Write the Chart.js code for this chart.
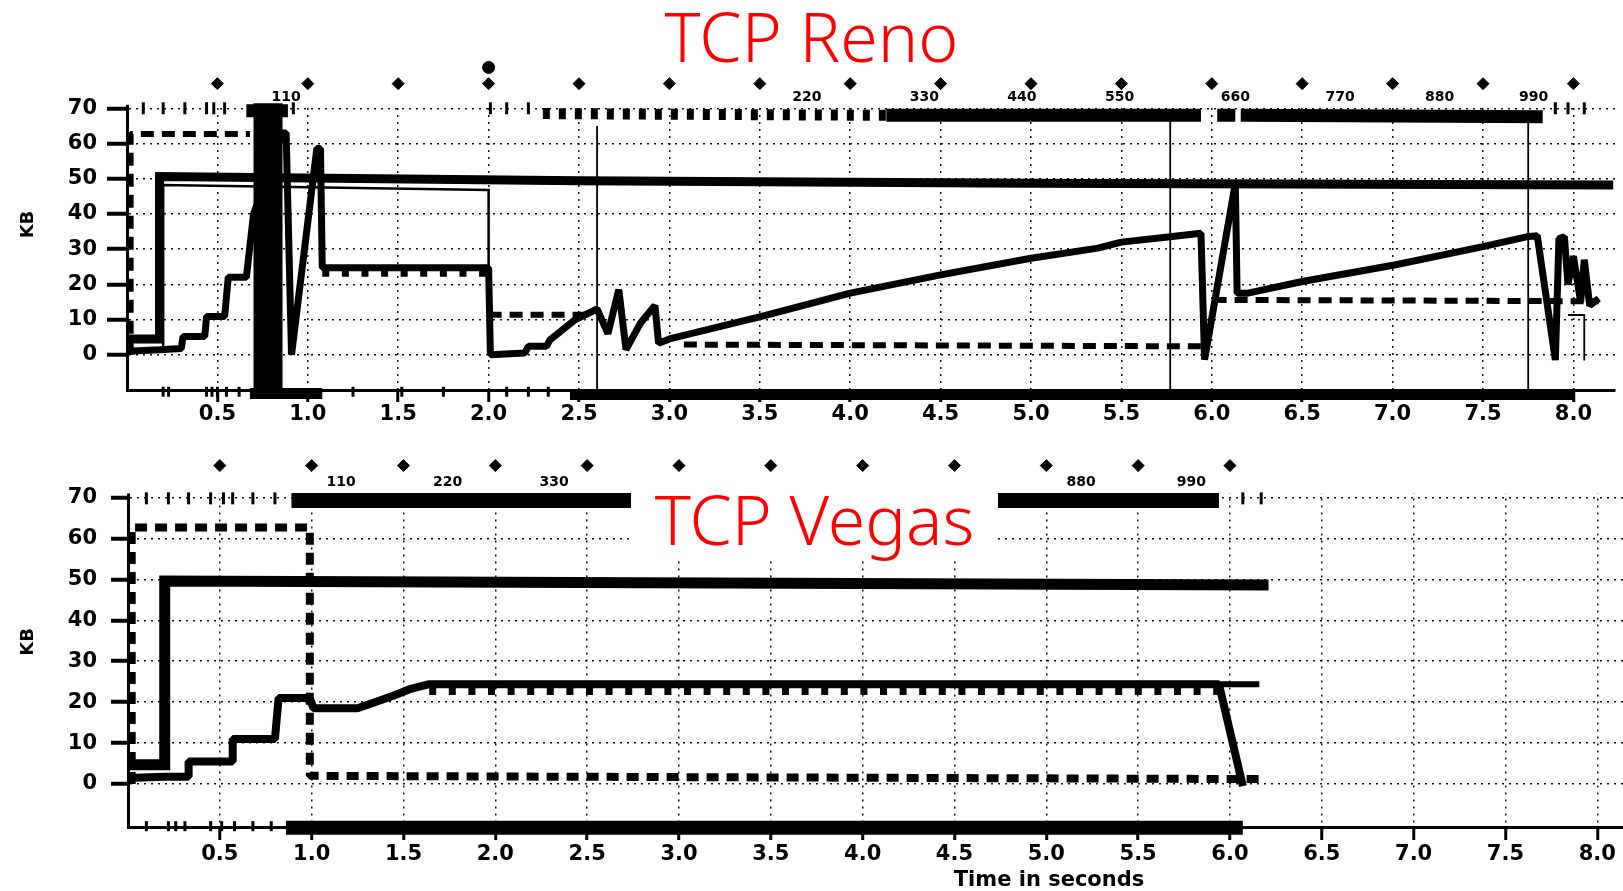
<!DOCTYPE html>
<html>
<head>
<meta charset="utf-8">
<title>TCP Reno / TCP Vegas</title>
<script src="https://cdn.jsdelivr.net/npm/chart.js@4.4.0/dist/chart.umd.min.js"></script>
<style>
  body { margin: 0; background: #fff; width: 1623px; height: 891px; overflow: hidden; position: relative; }
  canvas { position: absolute; left: 0; }
  #renoCanvas { top: 0; }
  #vegasCanvas { top: 430px; }
  .titulo { position: absolute; color: #ff0000; font-family: "Noto Sans", sans-serif; font-weight: 300;
            font-size: 68px; line-height: 68px; text-align: center; white-space: nowrap; }
  #tituloReno { left: 0; width: 1623px; top: 2px; }
  #tituloVegas { left: 631px; width: 367px; top: 478px; height: 75px; padding-top: 7px; background: #fff; }
  #ejeTiempo { position: absolute; left: 849px; width: 400px; top: 869px; text-align: center;
               font: bold 21px "DejaVu Sans", sans-serif; line-height: 21px; white-space: nowrap; }
</style>
</head>
<body>
<canvas id="renoCanvas" width="1623" height="430"></canvas>
<canvas id="vegasCanvas" width="1623" height="461"></canvas>
<div class="titulo" id="tituloReno">TCP Reno</div>
<div class="titulo" id="tituloVegas">TCP Vegas</div>
<div id="ejeTiempo">Time in seconds</div>
<script>
window.addEventListener("load", dibujar);

// ejes (tiempo en segundos, KB)
var ejeXValores = [0.5, 1.0, 1.5, 2.0, 2.5, 3.0, 3.5, 4.0, 4.5, 5.0, 5.5, 6.0, 6.5, 7.0, 7.5, 8.0];
var ejeYValores = [0, 10, 20, 30, 40, 50, 60, 70];
var techoEjeY = 71; // por encima de esto solo van los rombos y los numeros

// ---------- TCP Reno ----------
var renoTasaT = [0, 0.18, 0.18, 2.5, 5.0, 8.22];
var renoTasaKB = [4.5, 4.5, 50.6, 49.4, 48.7, 48.2];

var renoFinaT = [0.2, 0.2, 2.0, 2.0];
var renoFinaKB = [1, 48.2, 46.8, 24];

var renoVentanaT = [0, 0.18, 0.3, 0.31, 0.43, 0.44, 0.54, 0.56, 0.66, 0.7, 0.86, 0.88, 0.91, 1.05, 1.07, 1.08, 2.0, 2.01,
  2.2, 2.22, 2.32, 2.34, 2.48, 2.6, 2.66, 2.72, 2.76, 2.84, 2.92, 2.94, 3.0, 3.51, 4.0, 4.5, 5.0, 5.37, 5.5, 5.77, 5.94, 5.96,
  6.13, 6.14, 6.2, 6.5, 7.01, 7.5, 7.74, 7.8, 7.9, 7.92, 7.95, 7.97, 8.0, 8.04, 8.06, 8.09, 8.14];
var renoVentanaKB = [1, 1.4, 1.8, 5.2, 5.2, 10.9, 10.9, 22, 22, 40, 63, 63, 0, 58.6, 58.6, 24.7, 24.7, 0,
  0.5, 2.4, 2.4, 4.3, 10, 13, 6, 18.5, 1.5, 9, 14, 3.3, 4.5, 10.9, 17.5, 22.7, 27.4, 30.3, 32, 33.5, 34.5, -1.4,
  48.7, 17.5, 17.5, 20.8, 25.5, 30.7, 33.5, 33.8, -1.5, 33, 33.5, 20, 28, 15, 27, 14, 16];

var renoDientesT = [1.08, 2.0];
var renoDientesKB = [23, 23];

var renoUmbralT = [0.02, 0.02, 0.68, 1.0, 2.0, 2.55, 2.8, 3.08, 5.94, 5.98, 6.01, 8.14];
var renoUmbralKB = [0, 62.7, 62.7, null, 11.4, 11.4, null, 2.9, 2.4, null, 15.6, 15.2];

var renoVerticalesT = [2.6, 2.6, 2.7, 5.77, 5.77, 5.8, 7.75, 7.75, 7.85, 7.97, 8.06, 8.06];
var renoVerticalesKB = [65, -10, null, 68, -10, null, 67, -10, null, 11.3, 11.3, -1.6];

var renoBarraT = [0.78, 0.78];
var renoBarraKB = [-11, 71.4];

var renoBandaSupT = [0.66, 0.89, 2.0, 4.2, 5.94, 6.0, 6.03, 6.13, 6.14, 6.16, 7.83];
var renoBandaSupKB = [69.3, 69.3, null, 68, 68, null, 68, 68, null, 68, 67.6];
var renoBloquesT = [2.3, 4.2];
var renoBloquesKB = [68.5, 68];
var renoMarcasSupT = [0.09, 0.2, 0.32, 0.44, 0.48, 0.54, 0.92, 2.01, 2.1, 2.22, 7.9, 7.97, 8.06];

var renoBandaInfT = [0.68, 1.08, 1.5, 2.45, 8.0];
var renoBandaInfKB = [-11, -11, null, -11.3, -11.3];
var renoMarcasInfT = [0.2, 0.23, 0.44, 0.47, 0.5, 0.55, 0.62, 1.25, 1.52, 1.75, 2.1, 2.22, 2.33];

var renoDiamanteT = [0.5, 1.0, 1.5, 2.0, 2.5, 3.0, 3.5, 4.0, 4.5, 5.0, 5.5, 6.0, 6.5, 7.0, 7.5, 8.0];
var renoDiamanteKB = 77;
var renoPuntoGrandeT = [2.0];
var renoPuntoGrandeKB = [81.6];

var renoSecuencias = ["110", "220", "330", "440", "550", "660", "770", "880", "990"];
var renoSecuenciasT = [0.88, 3.76, 4.41, 4.95, 5.49, 6.13, 6.71, 7.26, 7.78];

// ---------- TCP Vegas ----------
var vegasTasaT = [0, 0.2, 0.2, 6.21];
var vegasTasaKB = [4.7, 4.7, 49.6, 48.6];

var vegasUmbralT = [0.02, 0.02, 0.99, 0.99, 6.18];
var vegasUmbralKB = [0, 62.7, 62.7, 2.0, 1.2];

var vegasVentanaT = [0, 0.2, 0.33, 0.33, 0.57, 0.57, 0.8, 0.82, 0.99, 1.01, 1.25, 1.34, 1.44, 1.53, 1.64, 5.94, 6.07];
var vegasVentanaKB = [1.5, 1.8, 1.8, 5.5, 5.5, 11, 11, 21, 21, 18.5, 18.5, 19.9, 21.5, 23.1, 24.4, 24.4, -0.5];
var vegasColaT = [5.94, 6.16];
var vegasColaKB = [24.4, 24.4];
var vegasDientesT = [1.64, 5.94];
var vegasDientesKB = [22.6, 22.6];

var vegasBandaSupT = [0.89, 5.94];
var vegasBandaSupKB = [69.3, 69.3];
var vegasMarcasSupT = [0.1, 0.22, 0.33, 0.45, 0.52, 0.57, 0.68, 0.8, 6.07, 6.17];

var vegasBandaInfT = [0.86, 6.07];
var vegasBandaInfKB = [-10.7, -10.7];
var vegasMarcasInfT = [0.1, 0.22, 0.26, 0.31, 0.45, 0.51, 0.58, 0.68, 0.78];

var vegasDiamanteT = [0.5, 1.0, 1.5, 2.0, 2.5, 3.0, 3.5, 4.0, 4.5, 5.0, 5.5, 6.0];
var vegasDiamanteKB = 77.8;

var vegasSecuencias = ["110", "220", "330", "880", "990"];
var vegasSecuenciasT = [1.16, 1.74, 2.32, 5.19, 5.79];

function puntos(ts, kbs) {
  var lista = [];
  for (var i = 0; i < ts.length; i++) {
    lista.push({ x: ts[i], y: kbs[i] });
  }
  return lista;
}

// todas las marcas de una fila a la misma altura
function fila(ts, kb) {
  var kbs = [];
  for (var i = 0; i < ts.length; i++) kbs.push(kb);
  return puntos(ts, kbs);
}

function linea(datos, ancho, guiones, union) {
  return {
    data: datos, borderColor: "#000", borderWidth: ancho, borderDash: guiones || [],
    pointRadius: 0, fill: false, tension: 0, spanGaps: false, clip: false,
    borderCapStyle: "butt", borderJoinStyle: union || "bevel"
  };
}

function marcas(datos, estilo, radio, giro, borde) {
  return {
    data: datos, showLine: false, pointStyle: estilo, pointRadius: radio, pointRotation: giro || 0,
    pointBackgroundColor: "#000", pointBorderColor: "#000", pointBorderWidth: borde || 1, clip: false
  };
}

// borra la rejilla y el eje por encima de 71 KB (alli solo hay rombos)
var pluginLimpiarArriba = {
  id: "limpiarArriba",
  beforeDatasetsDraw: function (chart) {
    var a = chart.chartArea;
    var tope = chart.scales.y.getPixelForValue(techoEjeY);
    var ctx = chart.ctx;
    ctx.save();
    ctx.fillStyle = "#fff";
    ctx.fillRect(a.left - 3, 0, a.right - a.left + 6, tope);
    ctx.restore();
  }
};

function pluginEtiquetas(textos, tiempos, kb) {
  return {
    id: "etiquetasSecuencia",
    afterDatasetsDraw: function (chart) {
      var ctx = chart.ctx;
      ctx.save();
      ctx.font = 'bold 14px "DejaVu Sans"';
      ctx.fillStyle = "#000";
      ctx.textAlign = "center";
      ctx.textBaseline = "middle";
      for (var i = 0; i < textos.length; i++) {
        ctx.fillText(textos[i], chart.scales.x.getPixelForValue(tiempos[i]), chart.scales.y.getPixelForValue(kb));
      }
      ctx.restore();
    }
  };
}

function opciones(cfg) {
  var fuente = { family: "DejaVu Sans", size: 21, weight: "bold" };
  return {
    responsive: false,
    animation: false,
    events: [],
    layout: { autoPadding: false, padding: { left: 0, top: cfg.arriba, right: cfg.derecha, bottom: 0 } },
    plugins: { legend: { display: false }, tooltip: { enabled: false } },
    scales: {
      x: {
        type: "linear", min: 0, max: cfg.xMax, offset: false,
        afterBuildTicks: function (s) { s.ticks = ejeXValores.map(function (v) { return { value: v }; }); },
        afterFit: function (s) { s.height = cfg.altoEjeX; },
        ticks: { autoSkip: false, maxRotation: 0, padding: cfg.separaX, color: "#000", font: fuente,
                 callback: function (v) { return v.toFixed(1); } },
        grid: { color: "#111", lineWidth: 1.5, tickLength: cfg.marcaX, tickWidth: 3, tickColor: "#000", tickBorderDash: [] },
        border: { color: "#000", width: 3, dash: [2, 5] }
      },
      y: {
        type: "linear", min: cfg.yMin, max: cfg.yMax,
        afterBuildTicks: function (s) { s.ticks = ejeYValores.map(function (v) { return { value: v }; }); },
        afterFit: function (s) { s.width = cfg.anchoEjeY; },
        ticks: { padding: cfg.separaY, color: "#000", font: fuente },
        grid: { color: "#111", lineWidth: 1.5, tickLength: cfg.marcaY, tickWidth: 4, tickColor: "#000", tickBorderDash: [] },
        border: { color: "#000", width: 3, dash: [2, 5] },
        title: { display: true, text: "KB", color: "#000", font: { family: "DejaVu Sans", size: 18, weight: "bold" },
                 padding: { top: 18, bottom: 0 } }
      }
    }
  };
}

function dibujar() {
  //////////// TCP Reno
  var renoSeries = [
    marcas(fila(renoDiamanteT, renoDiamanteKB), "rectRot", 6),
    marcas(puntos(renoPuntoGrandeT, renoPuntoGrandeKB), "circle", 6),
    marcas(fila(renoMarcasSupT, 70), "line", 6, 90, 3),
    marcas(fila(renoMarcasInfT, -10.5), "line", 5, 90, 3),
    linea(puntos(renoVentanaT, renoVentanaKB), 7),
    linea(puntos(renoDientesT, renoDientesKB), 6, [7, 12.6]),
    linea(puntos(renoFinaT, renoFinaKB), 2.5, [], "miter"),
    linea(puntos(renoVerticalesT, renoVerticalesKB), 1.8, [], "miter"),
    linea(puntos(renoTasaT, renoTasaKB), 9, [], "miter"),
    linea(puntos(renoUmbralT, renoUmbralKB), 6, [13, 8]),
    linea(puntos(renoBandaSupT, renoBandaSupKB), 13),
    linea(puntos(renoBloquesT, renoBloquesKB), 11, [7, 9]),
    linea(puntos(renoBandaInfT, renoBandaInfKB), 11),
    linea(puntos(renoBarraT, renoBarraKB), 29)
  ];
  new Chart(document.getElementById("renoCanvas"), {
    type: "line",
    data: { datasets: renoSeries },
    options: opciones({ arriba: 59, derecha: 8, xMax: 8.23, yMin: -10, yMax: 84, altoEjeX: 40, anchoEjeY: 127,
                        marcaX: 12, separaX: 0, marcaY: 20, separaY: 10 }),
    plugins: [pluginLimpiarArriba, pluginEtiquetas(renoSecuencias, renoSecuenciasT, 73)]
  });

  //////////// TCP Vegas
  var vegasSeries = [
    marcas(fila(vegasDiamanteT, vegasDiamanteKB), "rectRot", 6),
    marcas(fila(vegasMarcasSupT, 69.8), "line", 6, 90, 3),
    marcas(fila(vegasMarcasInfT, -10.3), "line", 5, 90, 3),
    linea(puntos(vegasVentanaT, vegasVentanaKB), 8),
    linea(puntos(vegasColaT, vegasColaKB), 6),
    linea(puntos(vegasDientesT, vegasDientesKB), 7, [7, 12.6]),
    linea(puntos(vegasTasaT, vegasTasaKB), 11, [], "miter"),
    linea(puntos(vegasUmbralT, vegasUmbralKB), 8, [12, 8]),
    linea(puntos(vegasBandaSupT, vegasBandaSupKB), 15),
    linea(puntos(vegasBandaInfT, vegasBandaInfKB), 14)
  ];
  new Chart(document.getElementById("vegasCanvas"), {
    type: "line",
    data: { datasets: vegasSeries },
    options: opciones({ arriba: 20, derecha: 0, xMax: 8.14, yMin: -10.5, yMax: 80, altoEjeX: 64, anchoEjeY: 128,
                        marcaX: 13, separaX: 2, marcaY: 17, separaY: 14 }),
    plugins: [pluginLimpiarArriba, pluginEtiquetas(vegasSecuencias, vegasSecuenciasT, 73.6)]
  });
}
</script>
</body>
</html>
